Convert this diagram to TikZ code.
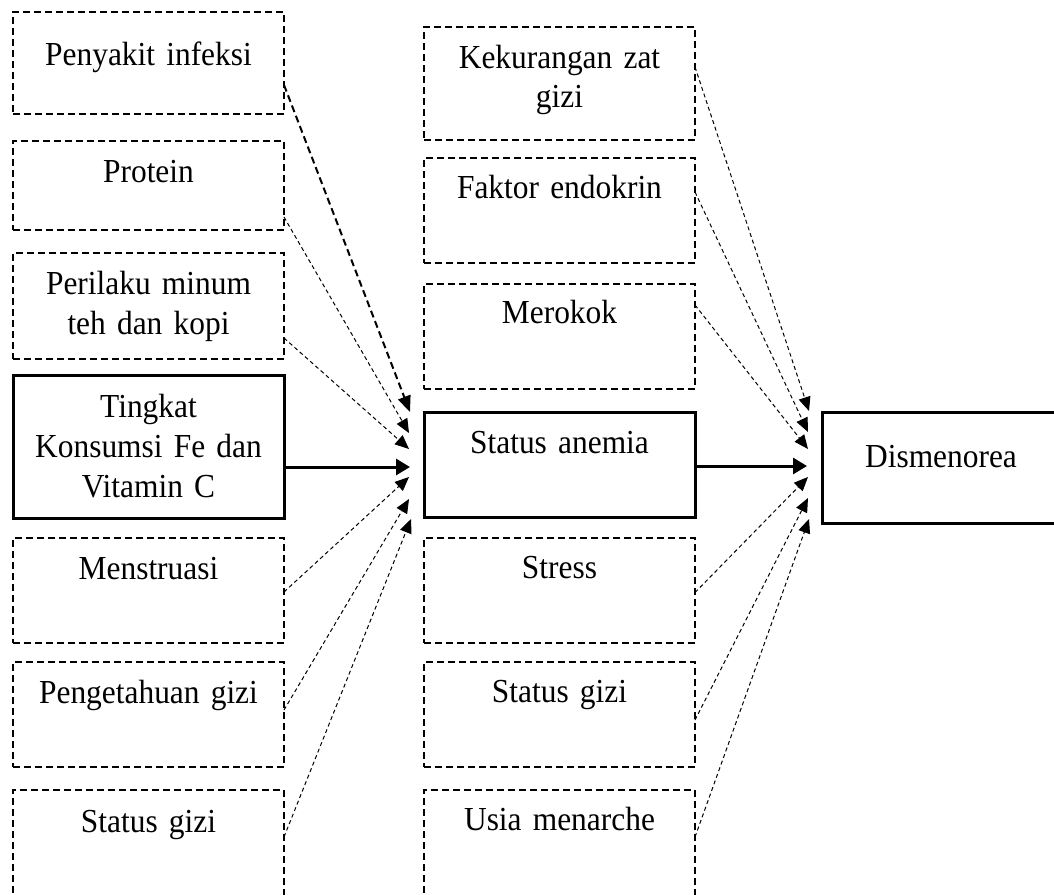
\documentclass[tikz,border=0pt]{standalone}
\usepackage{fontspec}
\setmainfont[FakeStretch=0.935,WordSpace=0.85]{Liberation Serif}
\usetikzlibrary{arrows.meta,calc}
\newcommand{\isi}{\fontsize{16.8pt}{20pt}\selectfont}

\begin{document}
\begin{tikzpicture}[x=0.5pt,y=-0.5pt,
  kotak/.style={anchor=north west, inner sep=0pt, outer sep=0pt, align=center,
    text width=135.5pt, text height=20.5pt, font=\isi},
  faktor/.style={kotak, draw, line width=0.75pt, dash pattern=on 3.5pt off 2pt},
  utama/.style={kotak, draw, line width=1.5pt},
  panah/.style={-{Triangle[length=7pt,width=6pt]}, line width=0.5pt, dash pattern=on 2pt off 1.5pt},
  panahbesar/.style={-{Triangle[length=8pt,width=6.5pt]}, line width=1pt, dash pattern=on 3.5pt off 2pt},
  panahtebal/.style={-{Triangle[length=7pt,width=8pt]}, line width=1.5pt}]

 \clip (0,0) rectangle (1054,894);

 \node[faktor, text height=26.5pt, text depth=24.5pt] (pi) at (13,12) {Penyakit infeksi};
 \node[faktor, text depth=24pt] (pr) at (13,141) {Protein};
 \node[faktor, text depth=32.5pt] (pm) at (13,253) {Perilaku minum\\teh dan kopi};
 \node[utama, text height=21pt, text depth=50.5pt] (tk) at (13,375) {Tingkat\\Konsumsi Fe dan\\Vitamin C};
 \node[faktor, text depth=32pt] (me) at (13,538) {Menstruasi};
 \node[faktor, text depth=32pt] (pg) at (13,662) {Pengetahuan gizi};
 \node[faktor, text height=21pt, text depth=34pt] (sgl) at (13,790) {Status gizi};

 \node[faktor, text depth=36pt] (kz) at (424,27) {Kekurangan zat\\gizi};
 \node[faktor, text height=20pt, text depth=32.5pt] (fe) at (424,158) {Faktor endokrin};
 \node[faktor, text height=19.5pt, text depth=33pt] (mr) at (424,284) {Merokok};
 \node[utama, text depth=32pt] (sa) at (424,412) {Status anemia};
 \node[faktor, text height=20pt, text depth=32.5pt] (st) at (424,538) {Stress};
 \node[faktor, text height=20pt, text depth=32.5pt] (sgm) at (424,662) {Status gizi};
 \node[faktor, text height=20pt, text depth=35pt] (us) at (424,790) {Usia menarche};

 \node[utama, text width=119pt, text height=27.5pt, text depth=28pt] (dm) at (822,412) {Dismenorea};

 \draw[panahbesar] ($(pi.east)+(0,22)$) -- ($(sa.west)+(-14,-52.5)$);
 \draw[panah] ($(pr.east)+(0,31.5)$) -- ($(sa.west)+(-15,-31.5)$);
 \draw[panah] ($(pm.east)+(0,32)$) -- ($(sa.west)+(-15,-15.5)$);
 \draw[panahtebal] ($(tk.east)+(0,20.5)$) -- ($(sa.west)+(-14,2.5)$);
 \draw[panah] ($(me.east)+(0,1.5)$) -- ($(sa.west)+(-15,12.5)$);
 \draw[panah] ($(pg.east)+(0,-4.5)$) -- ($(sa.west)+(-15,34.5)$);
 \draw[panah] ($(sgl.east)+(0,-8)$) -- ($(sa.west)+(-13,54.5)$);

 \draw[panah] ($(kz.east)+(0,-16.5)$) -- ($(dm.west)+(-13,-56.5)$);
 \draw[panah] ($(fe.east)+(0,-18.5)$) -- ($(dm.west)+(-14,-35.5)$);
 \draw[panah] ($(mr.east)+(0,-31.5)$) -- ($(dm.west)+(-14,-18.5)$);
 \draw[panahtebal] ($(sa.east)+(0,1.5)$) -- ($(dm.west)+(-15,-1.5)$);
 \draw[panah] ($(st.east)+(0,2)$) -- ($(dm.west)+(-14,9.5)$);
 \draw[panah] ($(sgm.east)+(0,5.5)$) -- ($(dm.west)+(-14,30.5)$);
 \draw[panah] ($(us.east)+(0,-8)$) -- ($(dm.west)+(-13,51.5)$);

\end{tikzpicture}
\end{document}
